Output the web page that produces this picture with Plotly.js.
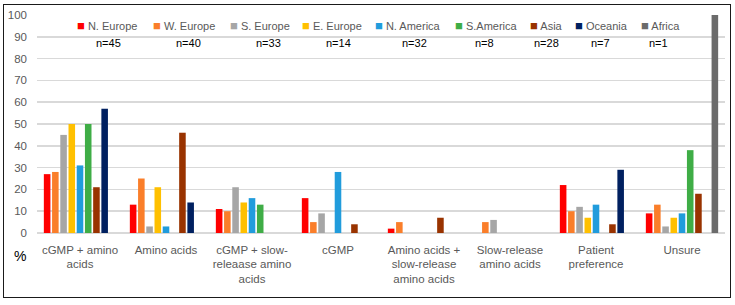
<!DOCTYPE html>
<html>
<head>
<meta charset="utf-8">
<script src="https://cdn.plot.ly/plotly-3.0.1.min.js"></script>
<style>
  html, body { margin: 0; padding: 0; background: #fff; }
  #wrap { position: relative; width: 735px; height: 305px; }
  #chart { width: 735px; height: 305px; }
  #frame {
    position: absolute; left: 3px; top: 4px; width: 726px; height: 292px;
    border: 1.5px solid #1a1a1a; pointer-events: none;
  }
</style>
</head>
<body>
<div id="wrap">
  <div id="chart"></div>
  <div id="frame"></div>
</div>
<script>
// Treatment approach categories (x axis)
const categories = [
  'cGMP + amino<br>acids',
  'Amino acids',
  'cGMP + slow-<br>releaase amino<br>acids',
  'cGMP',
  'Amino acids +<br>slow-release<br>amino acids',
  'Slow-release<br>amino acids',
  'Patient<br>preference',
  'Unsure'
];

// Regions and their respondent counts
const regions = ['N. Europe', 'W. Europe', 'S. Europe', 'E. Europe', 'N. America', 'S.America', 'Asia', 'Oceania', 'Africa'];
const sampleSizes = ['n=45', 'n=40', 'n=33', 'n=14', 'n=32', 'n=8', 'n=28', 'n=7', 'n=1'];

// Percentage of respondents per region, one value per category
const nEurope  = [27, 13, 11, 16, 2, 0, 22, 9];
const wEurope  = [28, 25, 10, 5, 5, 5, 10, 13];
const sEurope  = [45, 3, 21, 9, 0, 6, 12, 3];
const eEurope  = [50, 21, 14, 0, 0, 0, 7, 7];
const nAmerica = [31, 3, 16, 28, 0, 0, 13, 9];
const sAmerica = [50, 0, 13, 0, 0, 0, 0, 38];
const asia     = [21, 46, 0, 4, 7, 0, 4, 18];
const oceania  = [57, 14, 0, 0, 0, 0, 29, 0];
const africa   = [0, 0, 0, 0, 0, 0, 0, 100];

const yTicks = [0, 10, 20, 30, 40, 50, 60, 70, 80, 90, 100];

const seriesValues = [nEurope, wEurope, sEurope, eEurope, nAmerica, sAmerica, asia, oceania, africa];
const colors = ['#FF0000', '#FA7E2A', '#A6A6A6', '#FFC000', '#219CDC', '#3FAD46', '#993300', '#002060', '#6B6B6B'];

const traces = regions.map((name, i) => ({
  type: 'bar',
  name: name,
  x: categories,
  y: seriesValues[i],
  marker: { color: colors[i], line: { width: 0 } },
  hoverinfo: 'skip'
}));

// Legend entries and sample sizes are placed as annotations (paper coords)
const plotLeft = 37, plotWidth = 688, plotBottom = 233.5, plotHeight = 218.5;
const px = v => (v - plotLeft) / plotWidth;
const py = v => (plotBottom - v) / plotHeight;

const legendLeft = [75, 150.5, 228, 300, 372.5, 452.5, 528, 572.5, 639];
const countCenter = [108, 188, 268, 338, 414, 484.5, 546.5, 600, 658];

const annotations = [];
regions.forEach((name, i) => {
  annotations.push({
    xref: 'paper', yref: 'paper',
    x: px(legendLeft[i]), y: py(26),
    xanchor: 'left', yanchor: 'middle',
    showarrow: false,
    text: '<span style="color:' + colors[i] + ';font-size:13px">■</span> ' + name,
    font: { family: 'Liberation Sans, Arial, sans-serif', size: 11, color: '#595959' }
  });
  annotations.push({
    xref: 'paper', yref: 'paper',
    x: px(countCenter[i]), y: py(43.5),
    xanchor: 'center', yanchor: 'middle',
    showarrow: false,
    text: sampleSizes[i],
    font: { family: 'Liberation Sans, Arial, sans-serif', size: 11, color: '#000000' }
  });
});
annotations.push({
  xref: 'paper', yref: 'paper',
  x: px(20), y: py(257),
  xanchor: 'center', yanchor: 'middle',
  showarrow: false,
  text: '%',
  font: { family: 'Liberation Sans, Arial, sans-serif', size: 14, color: '#000000' }
});

const layout = {
  width: 735,
  height: 305,
  margin: { l: plotLeft, r: 735 - plotLeft - plotWidth, t: 15, b: 305 - plotBottom, pad: 0 },
  paper_bgcolor: '#ffffff',
  plot_bgcolor: '#ffffff',
  barmode: 'group',
  bargap: 0.14,
  bargroupgap: 0.2,
  showlegend: false,
  font: { family: 'Liberation Sans, Arial, sans-serif', size: 11, color: '#595959' },
  xaxis: {
    type: 'category',
    showgrid: false,
    showline: false,
    ticks: '',
    tickfont: { size: 11.5, color: '#595959' },
    ticklabelstandoff: 8,
    fixedrange: true
  },
  yaxis: {
    range: [0, 100],
    tickvals: yTicks,
    ticktext: yTicks.map(String),
    showgrid: true,
    gridcolor: '#D9D9D9',
    gridwidth: 1.5,
    zeroline: true,
    zerolinecolor: '#D9D9D9',
    zerolinewidth: 1.5,
    showline: false,
    ticks: '',
    tickfont: { size: 11.5, color: '#595959' },
    ticklabelstandoff: 9,
    fixedrange: true
  },
  annotations: annotations
};

Plotly.newPlot('chart', traces, layout, { displayModeBar: false, staticPlot: true });
</script>
</body>
</html>
